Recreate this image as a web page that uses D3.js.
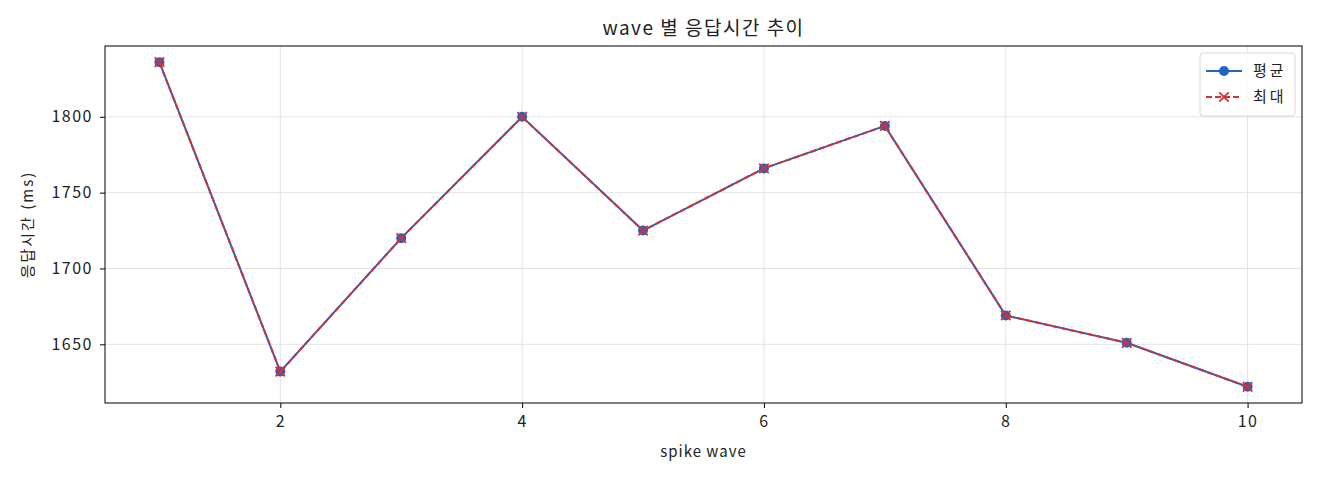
<!DOCTYPE html>
<html>
<head>
<meta charset="utf-8">
<script src="https://cdn.jsdelivr.net/npm/d3@7"></script>
<style>
  body { margin: 0; background: #fff; }
  text { font-family: "Noto Sans CJK KR", "Noto Sans", sans-serif; fill: #222; }
</style>
</head>
<body>
<div id="chart"></div>
<script>
// data
const waves = [1, 2, 3, 4, 5, 6, 7, 8, 9, 10];
const avgMs = [1836, 1632, 1720, 1800, 1725, 1766, 1794, 1669, 1651, 1622];
const maxMs = [1836, 1632, 1720, 1800, 1725, 1766, 1794, 1669, 1651, 1622];
const xTicks = [2, 4, 6, 8, 10];
const yTicks = [1650, 1700, 1750, 1800];
const seriesNames = ["평균", "최대"];

const width = 1320, height = 480;
const margin = { top: 46, right: 18, bottom: 77, left: 105 };
const innerW = width - margin.left - margin.right;
const innerH = height - margin.top - margin.bottom;

const svg = d3.select("#chart").append("svg")
    .attr("width", width)
    .attr("height", height);

const g = svg.append("g")
    .attr("transform", `translate(${margin.left},${margin.top})`);

// matplotlib style 5% margins
const xPad = (d3.max(waves) - d3.min(waves)) * 0.05;
const allY = avgMs.concat(maxMs);
const yPad = (d3.max(allY) - d3.min(allY)) * 0.05;

const x = d3.scaleLinear()
    .domain([d3.min(waves) - xPad, d3.max(waves) + xPad])
    .range([0, innerW]);
const y = d3.scaleLinear()
    .domain([d3.min(allY) - yPad, d3.max(allY) + yPad])
    .range([innerH, 0]);

// grid
g.append("g").selectAll("line").data(xTicks).join("line")
    .attr("x1", d => x(d)).attr("x2", d => x(d))
    .attr("y1", 0).attr("y2", innerH)
    .attr("stroke", "#e3e3e3").attr("stroke-width", 1);
g.append("g").selectAll("line").data(yTicks).join("line")
    .attr("y1", d => y(d)).attr("y2", d => y(d))
    .attr("x1", 0).attr("x2", innerW)
    .attr("stroke", "#e3e3e3").attr("stroke-width", 1);

// axes
const xAxis = g.append("g")
    .attr("transform", `translate(0,${innerH})`)
    .call(d3.axisBottom(x).tickValues(xTicks).tickSize(5).tickPadding(8).tickFormat(d3.format("d")));
const yAxis = g.append("g")
    .call(d3.axisLeft(y).tickValues(yTicks).tickSize(5).tickPadding(7).tickFormat(d3.format("d")));
[xAxis, yAxis].forEach(a => {
    a.select(".domain").remove();
    a.selectAll("line").attr("stroke", "#000");
    a.selectAll("text").style("font-size", "16px").style("letter-spacing", "1.5px").attr("fill", "#222");
});

// frame
g.append("rect")
    .attr("width", innerW).attr("height", innerH)
    .attr("fill", "none").attr("stroke", "#000").attr("stroke-width", 1);

const avgData = waves.map((w, i) => ({ w, v: avgMs[i] }));
const maxData = waves.map((w, i) => ({ w, v: maxMs[i] }));
const line = d3.line().x(d => x(d.w)).y(d => y(d.v));

const blue = "#1f66c2", red = "#d1313a";

// avg series: solid line + circles
g.append("path").datum(avgData)
    .attr("fill", "none").attr("stroke", blue).attr("stroke-width", 2)
    .attr("d", line);
g.append("g").selectAll("circle").data(avgData).join("circle")
    .attr("cx", d => x(d.w)).attr("cy", d => y(d.v)).attr("r", 5)
    .attr("fill", blue);

// max series: dashed line + x markers
g.append("path").datum(maxData)
    .attr("fill", "none").attr("stroke", red).attr("stroke-width", 2)
    .attr("stroke-dasharray", "6,3")
    .attr("d", line);
const cross = d3.symbol().type(d3.symbolX).size(60);
g.append("g").selectAll("path").data(maxData).join("path")
    .attr("transform", d => `translate(${x(d.w)},${y(d.v)})`)
    .attr("d", cross)
    .attr("fill", "none").attr("stroke", red).attr("stroke-width", 1.8);

// legend
const lg = g.append("g").attr("transform", `translate(${innerW - 102},${7})`);
lg.append("rect")
    .attr("width", 95).attr("height", 63).attr("rx", 3)
    .attr("fill", "#fff").attr("fill-opacity", 0.8)
    .attr("stroke", "#d6d6d6");
lg.append("line").attr("x1", 6).attr("x2", 42).attr("y1", 18).attr("y2", 18)
    .attr("stroke", blue).attr("stroke-width", 2);
lg.append("circle").attr("cx", 24).attr("cy", 18).attr("r", 5).attr("fill", blue);
lg.append("line").attr("x1", 6).attr("x2", 42).attr("y1", 44).attr("y2", 44)
    .attr("stroke", red).attr("stroke-width", 2).attr("stroke-dasharray", "6,3");
lg.append("path").attr("transform", "translate(24,44)").attr("d", cross)
    .attr("fill", "none").attr("stroke", red).attr("stroke-width", 1.8);
lg.selectAll("text.lbl").data(seriesNames).join("text")
    .attr("class", "lbl")
    .attr("x", 53).attr("y", (d, i) => 18 + i * 26)
    .attr("dy", "0.35em")
    .style("font-size", "15px")
    .style("letter-spacing", "3px")
    .text(d => d);

// labels
svg.append("text")
    .attr("x", margin.left + innerW / 2).attr("y", 35)
    .attr("text-anchor", "middle")
    .style("font-size", "19px")
    .style("letter-spacing", "1.5px")
    .text("wave 별 응답시간 추이");
svg.append("text")
    .attr("x", margin.left + innerW / 2).attr("y", 457)
    .attr("text-anchor", "middle")
    .style("font-size", "15px")
    .style("letter-spacing", "1px")
    .text("spike wave");
svg.append("text")
    .attr("transform", `translate(33,${margin.top + innerH / 2}) rotate(-90)`)
    .attr("text-anchor", "middle")
    .style("font-size", "15px")
    .style("letter-spacing", "2px")
    .text("응답시간 (ms)");
</script>
</body>
</html>
